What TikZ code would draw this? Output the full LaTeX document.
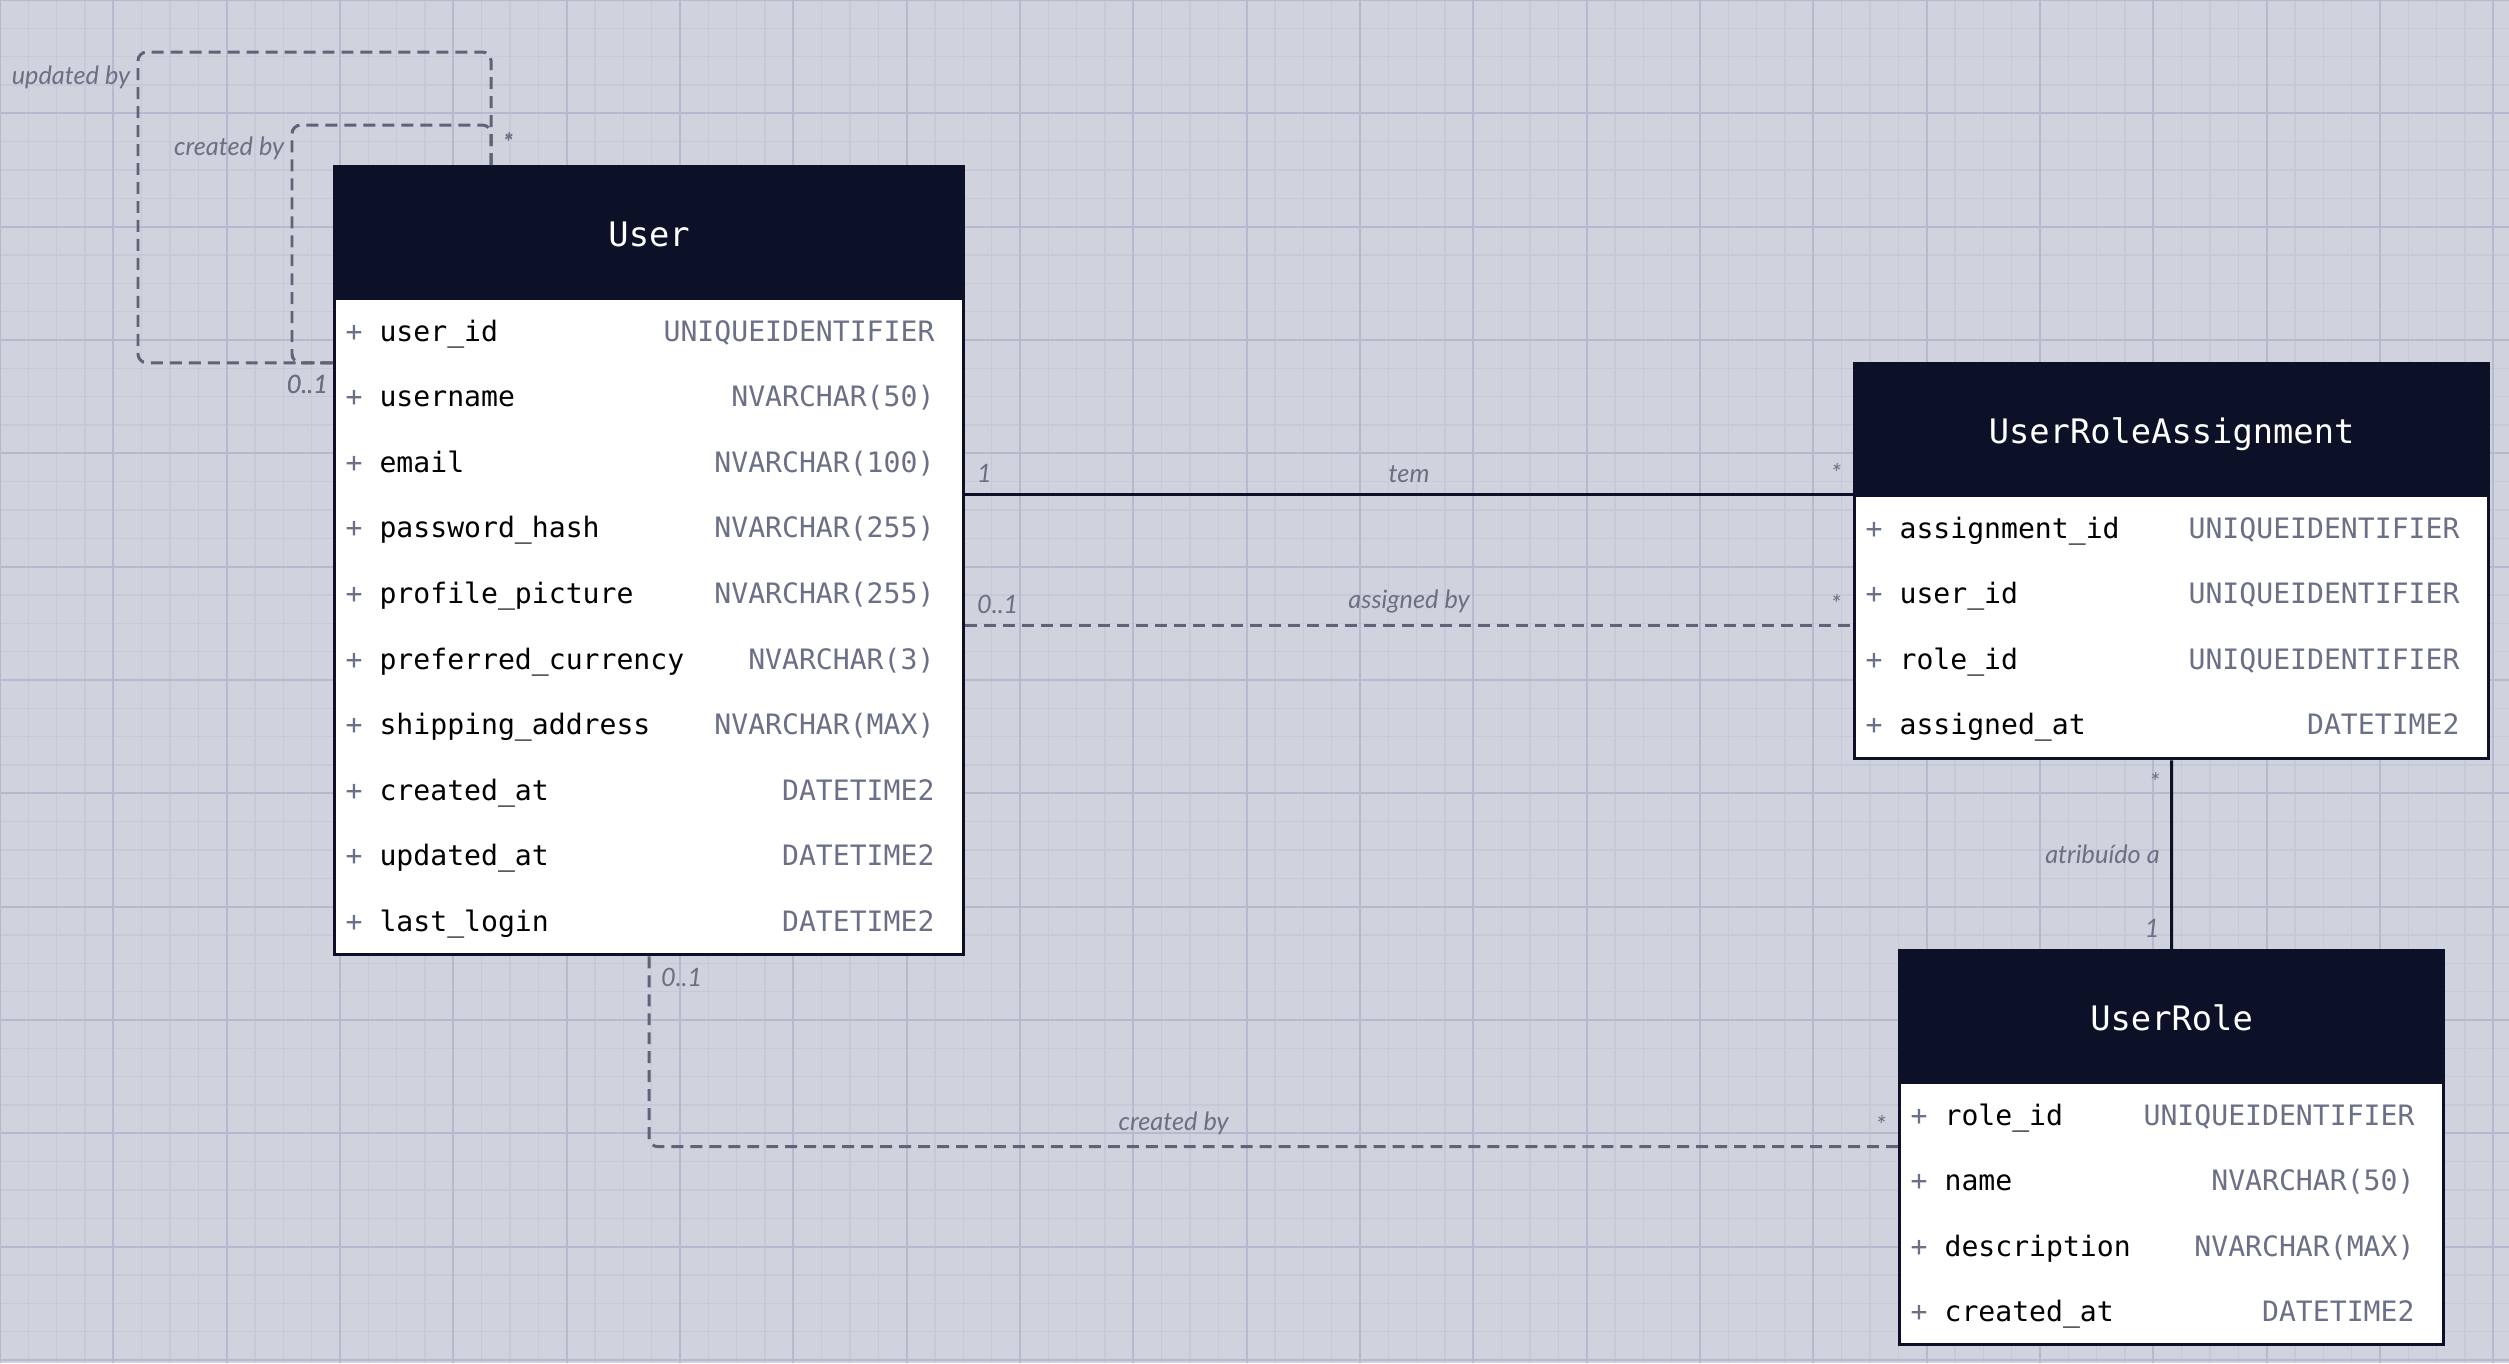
\documentclass[tikz,border=0pt]{standalone}
\usepackage{fontspec}
\setsansfont{Lato}
\setmonofont{DejaVu Sans Mono}
\usepackage{tikz}
\usetikzlibrary{positioning,calc}

\definecolor{bgcol}{HTML}{D0D2DE}
\definecolor{gridminor}{HTML}{C6C9D8}
\definecolor{gridmajor}{HTML}{B6BACE}
\definecolor{navy}{HTML}{0C1128}
\definecolor{typegrey}{HTML}{6B7087}
\definecolor{labelgrey}{HTML}{6B6F82}
\definecolor{linkgrey}{HTML}{5F6377}

\tikzset{
  tablehead/.style={draw=navy, fill=navy, line width=0.9pt, text=white, inner sep=0pt,
    font=\ttfamily\fontsize{9.6}{11}\selectfont, text height=9pt, text depth=0pt, minimum height=12.9mm},
  tablebody/.style={draw=navy, fill=white, line width=0.9pt, inner sep=0pt},
  field/.style={anchor=base west, inner sep=0pt, text=black, font=\ttfamily\fontsize{8}{10}\selectfont},
  ftype/.style={anchor=base east, inner sep=0pt, text=typegrey, font=\ttfamily\fontsize{8}{10}\selectfont},
  rel/.style={draw=navy, line width=0.8pt},
  optrel/.style={draw=linkgrey, line width=0.85pt, dash pattern=on 3.4pt off 2pt, rounded corners=2.5pt},
  mult/.style={text=labelgrey, inner sep=3pt, font=\sffamily\itshape\fontsize{7.2}{8.5}\selectfont},
}

\begin{document}
\begin{tikzpicture}[x=0.1mm, y=-0.1mm]
% canvas and grid
\fill[bgcol] (0,0) rectangle (2509,1363);
\useasboundingbox (0,0) rectangle (2509,1363);
\draw[gridminor, line width=0.3pt, step=2.8333mm] (0,1363) grid (2509,0);
\draw[gridmajor, line width=0.5pt, step=11.3333mm] (0,1363) grid (2509,0);

% User table
\node[tablehead, minimum width=62.9mm, anchor=north west] (user) at (333,165) {User};
\node[tablebody, minimum width=62.9mm, minimum height=65.6mm, below=0pt of user] (user-body) {};
\foreach \n/\t [count=\i] in {user\_id/UNIQUEIDENTIFIER, username/NVARCHAR(50), email/NVARCHAR(100),
    password\_hash/NVARCHAR(255), profile\_picture/NVARCHAR(255), preferred\_currency/NVARCHAR(3),
    shipping\_address/NVARCHAR(MAX), created\_at/DATETIME2, updated\_at/DATETIME2, last\_login/DATETIME2}{
  \node[field] (user-n\i) at ($(user-body.north west)+(12,{(\i-1)*65.6+44})$) {{\color{typegrey}+} \n};
  \node[ftype] (user-t\i) at ($(user-body.north east)+(-30,{(\i-1)*65.6+44})$) {\t};
  \coordinate (user-b\i) at ($(user-body.north west)+(0,{\i*65.6})$);
}

% UserRoleAssignment table
\node[tablehead, minimum width=63.4mm, anchor=north west] (ura) at (1853,362) {UserRoleAssignment};
\node[tablebody, minimum width=63.4mm, minimum height=26.3mm, below=0pt of ura] (ura-body) {};
\foreach \n/\t [count=\i] in {assignment\_id/UNIQUEIDENTIFIER, user\_id/UNIQUEIDENTIFIER,
    role\_id/UNIQUEIDENTIFIER, assigned\_at/DATETIME2}{
  \node[field] (ura-n\i) at ($(ura-body.north west)+(12,{(\i-1)*65.6+44})$) {{\color{typegrey}+} \n};
  \node[ftype] (ura-t\i) at ($(ura-body.north east)+(-30,{(\i-1)*65.6+44})$) {\t};
  \coordinate (ura-b\i) at ($(ura-body.north west)+(0,{\i*65.6})$);
}

% UserRole table
\node[tablehead, minimum width=54.4mm, anchor=north west] (role) at (1898,949) {UserRole};
\node[tablebody, minimum width=54.4mm, minimum height=26.2mm, below=0pt of role] (role-body) {};
\foreach \n/\t [count=\i] in {role\_id/UNIQUEIDENTIFIER, name/NVARCHAR(50),
    description/NVARCHAR(MAX), created\_at/DATETIME2}{
  \node[field] (role-n\i) at ($(role-body.north west)+(12,{(\i-1)*65.6+44})$) {{\color{typegrey}+} \n};
  \node[ftype] (role-t\i) at ($(role-body.north east)+(-30,{(\i-1)*65.6+44})$) {\t};
  \coordinate (role-b\i) at ($(role-body.north west)+(0,{\i*65.5})$);
}

% self references of User
\coordinate (user-top) at ($(user.north west)!0.25!(user.north east)$);
\draw[optrel] (user-top) |- node[mult, pos=0.1, right] {*} (138,52)
  |- node[mult, pos=0.04, left, xshift=1.2pt] {updated by} node[mult, pos=1, below left, xshift=2pt] {0..1} (user-b1);
\draw[optrel] (user-top) |- node[mult, pos=0.28, right] {*} (292,125)
  |- node[mult, pos=0.05, left, xshift=1.2pt] {created by} node[mult, pos=1, below left, xshift=2pt] {0..1} (user-b1);

% User -- UserRoleAssignment
\draw[rel] (ura-body.north west -| user-body.east) -- node[mult, pos=0, above right] {1}
  node[mult, above] {tem} node[mult, pos=1, above left] {*} (ura-body.north west);
\draw[optrel] (ura-b2 -| user-body.east) -- node[mult, pos=0, above right] {0..1}
  node[mult, above] {assigned by} node[mult, pos=1, above left] {*} (ura-b2);

% UserRoleAssignment -- UserRole
\draw[rel] (ura-body.south) -- node[mult, pos=0, below left] {*}
  node[mult, left] {atribuído a} node[mult, pos=1, above left] {1} (role.north);

% User -- UserRole
\draw[optrel] (user-body.south) |- node[mult, pos=0, below right] {0..1}
  node[mult, pos=0.71, above] {created by} node[mult, pos=1, above left] {*} (role-b1);
\end{tikzpicture}
\end{document}
